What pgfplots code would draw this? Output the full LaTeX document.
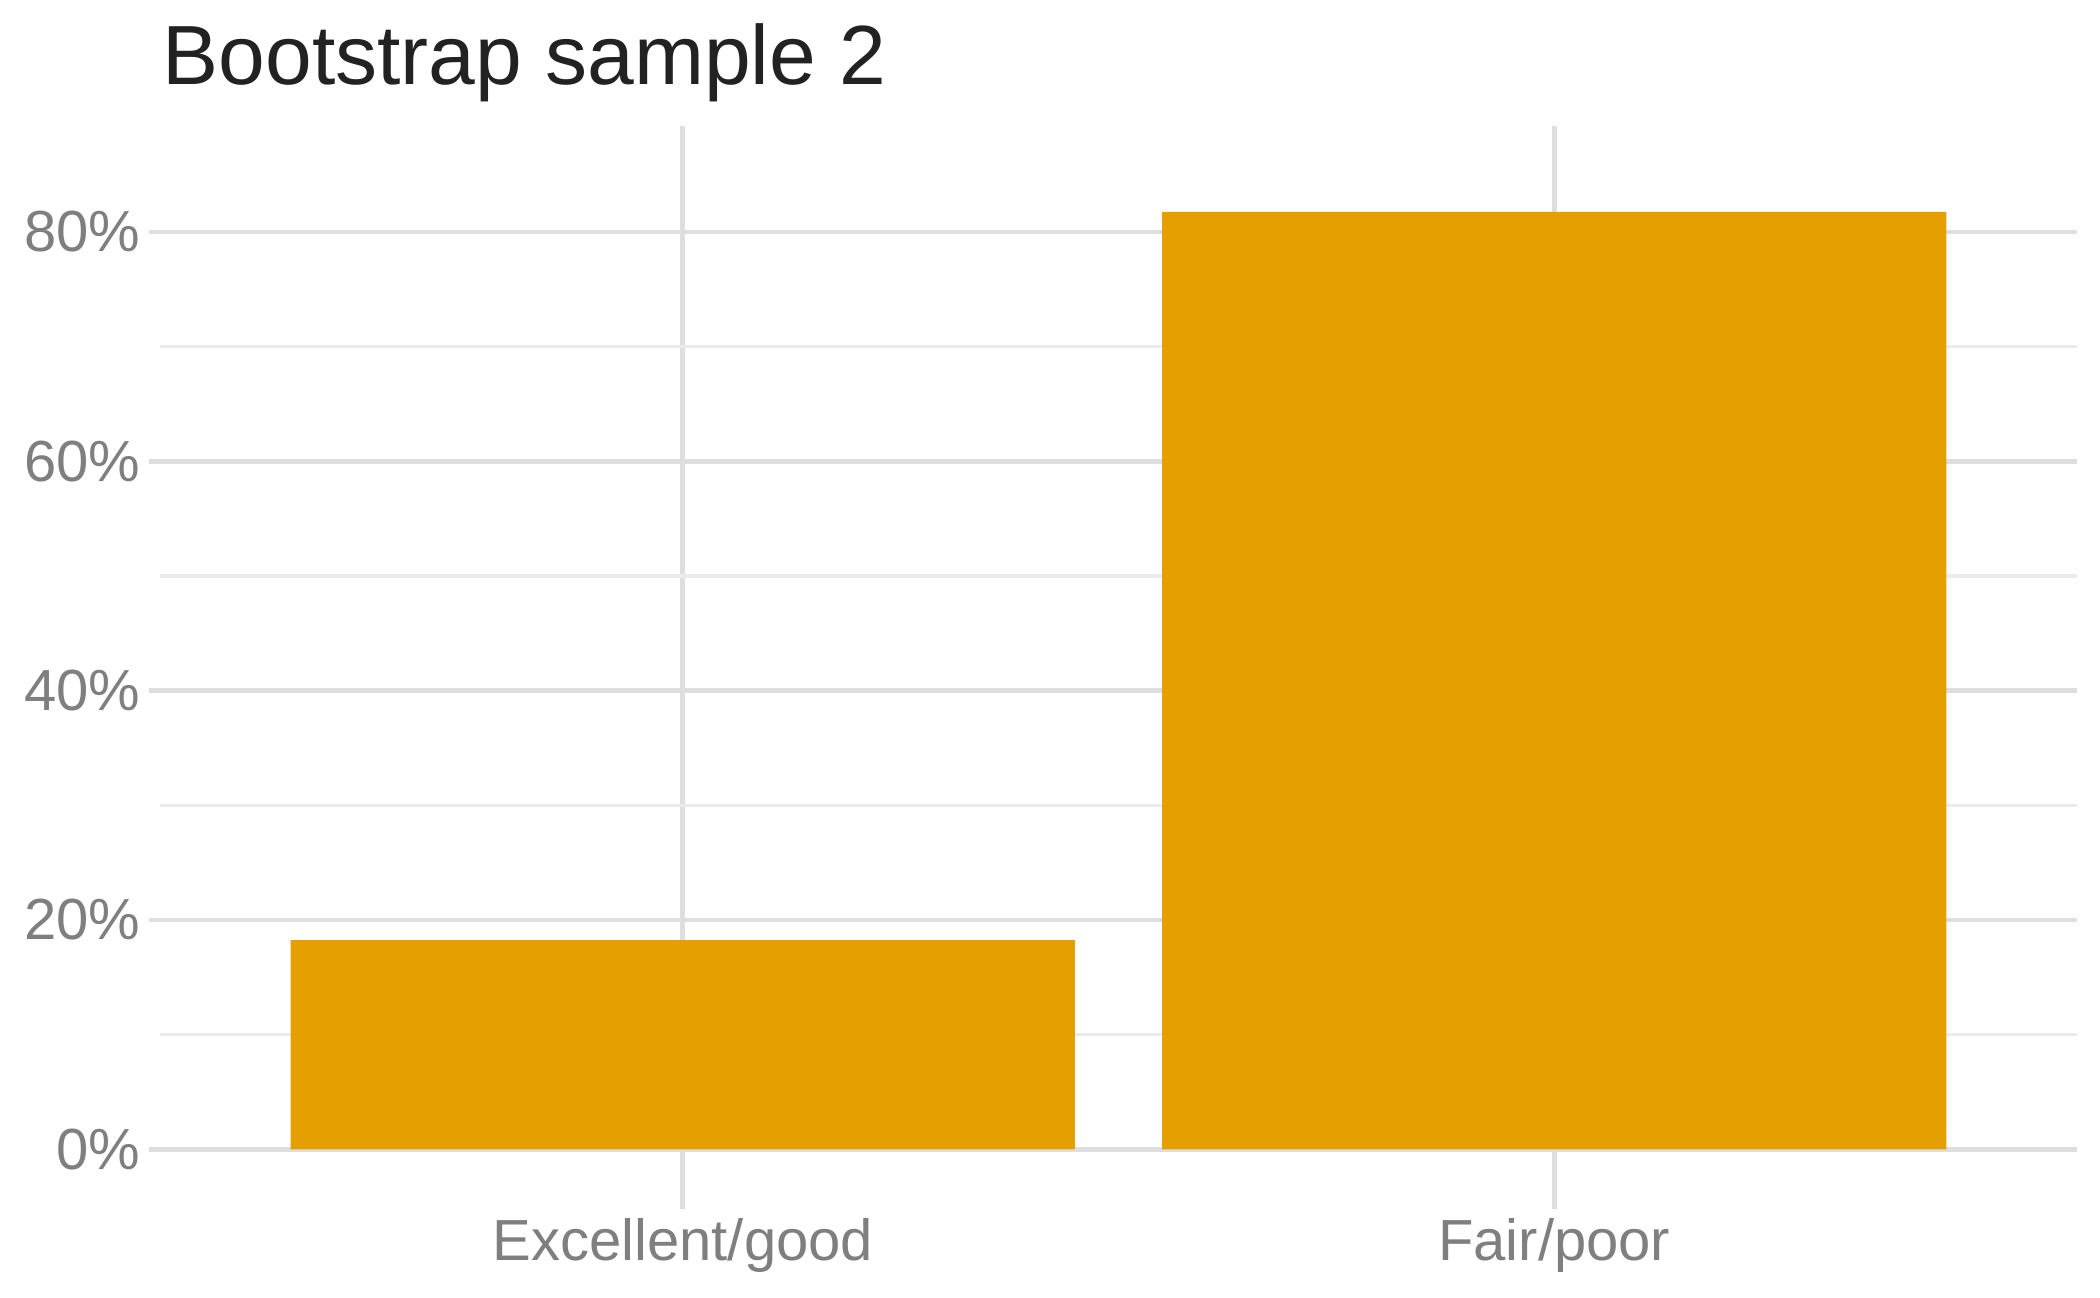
\documentclass[border=0pt]{standalone}
\usepackage{fontspec}
\setmainfont{Liberation Sans}
\usepackage{pgfplots}
\pgfplotsset{compat=1.18}

\definecolor{barorange}{HTML}{E69F00}
\definecolor{gridmaj}{HTML}{DEDEDE}
\definecolor{gridmin}{HTML}{EBEBEB}
\definecolor{ticktxt}{HTML}{7F7F7F}
\definecolor{titletxt}{HTML}{222222}

\begin{document}
\begin{tikzpicture}
\begin{axis}[
    at={(40pt,24.75pt)}, anchor=south west,
    scale only axis,
    width=479.25pt, height=268pt,
    xmin=-0.6, xmax=1.6,
    ymin=-4.25, ymax=89.25,
    axis line style={draw=none},
    tick align=outside,
    xtick pos=bottom, ytick pos=left,
    major tick length=2.75pt, minor tick length=0pt,
    major tick style={gridmaj, line width=1.2pt},
    xtick={0,1},
    xticklabels={Excellent/good, Fair/poor},
    ytick={0,20,40,60,80},
    yticklabels={0\%,20\%,40\%,60\%,80\%},
    minor ytick={10,30,50,70},
    grid=both,
    major grid style={gridmaj, line width=1.2pt},
    minor grid style={gridmin, line width=0.9pt},
    ticklabel style={font=\fontsize{14.5}{17}\selectfont, text=ticktxt},
    yticklabel style={anchor=east, inner sep=0pt, xshift=-2pt},
    xticklabel style={anchor=north, inner sep=0pt, yshift=-2.25pt},
    ybar, bar width=0.9,
]
% share of each category in the bootstrap sample
\addplot[fill=barorange, draw=none] coordinates {
    (0, 18.25)
    (1, 81.75)
};
\end{axis}
\node[anchor=base west, inner sep=0pt, text=titletxt,
      font=\fontsize{21}{25}\selectfont] at (40.5pt,303pt) {Bootstrap sample 2};
\pgfresetboundingbox
\path[use as bounding box] (0,0) rectangle (525pt,324.25pt);
\end{tikzpicture}
\end{document}
